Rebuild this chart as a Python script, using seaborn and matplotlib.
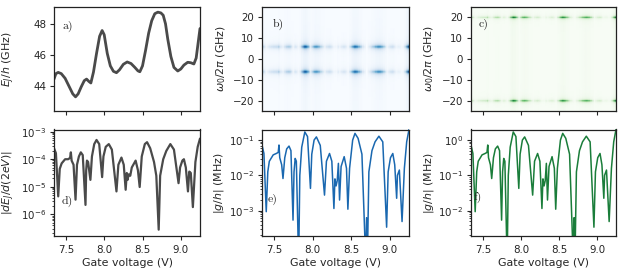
import numpy as np
import matplotlib
matplotlib.use("Agg")
import matplotlib.pyplot as plt
import seaborn as sns

sns.set_theme(style="ticks")
plt.rcParams.update({
    "font.family": ["DejaVu Sans"],
    "font.size": 7.6,
    "axes.labelsize": 7.9,
    "xtick.labelsize": 7.4,
    "ytick.labelsize": 7.4,
    "axes.linewidth": 0.9,
    "axes.edgecolor": "#222222",
    "xtick.major.size": 3.2,
    "ytick.major.size": 3.2,
    "ytick.minor.size": 1.8,
    "xtick.major.width": 0.8,
    "ytick.major.width": 0.8,
    "ytick.minor.width": 0.6,
    "xtick.major.pad": 3,
    "ytick.major.pad": 2.5,
    "mathtext.fontset": "dejavusans",
})

# a) Josephson energy vs gate voltage
v_a = [7.345, 7.37, 7.40, 7.44, 7.49, 7.54, 7.59, 7.626, 7.66, 7.70, 7.74, 7.77,
       7.80, 7.826, 7.86, 7.90, 7.94, 7.973, 8.00, 8.04, 8.08, 8.12, 8.16, 8.20,
       8.25, 8.30, 8.35, 8.40, 8.44, 8.465, 8.50, 8.54, 8.58, 8.62, 8.66, 8.70,
       8.74, 8.77, 8.80, 8.83, 8.87, 8.91, 8.96, 9.00, 9.04, 9.09, 9.13, 9.17,
       9.20, 9.25]
ej = [44.45, 44.8, 44.88, 44.8, 44.5, 44.0, 43.5, 43.31, 43.5, 43.95, 44.35, 44.45,
      44.3, 44.2, 44.9, 46.1, 47.2, 47.57, 47.3, 46.1, 45.3, 44.95, 44.86, 45.05,
      45.4, 45.55, 45.45, 45.2, 44.98, 44.92, 45.3, 46.3, 47.4, 48.2, 48.65, 48.75,
      48.7, 48.55, 48.0, 47.0, 45.9, 45.2, 44.97, 45.1, 45.35, 45.53, 45.5, 45.42,
      45.8, 47.7]

# d) |dEJ/d(2eV)| (log10 values)
v_d = [7.345, 7.37, 7.40, 7.42, 7.445, 7.49, 7.53, 7.555, 7.565, 7.575, 7.60, 7.626,
       7.645, 7.67, 7.695, 7.72, 7.756, 7.765, 7.775, 7.79, 7.82, 7.84, 7.87, 7.90,
       7.935, 7.973, 7.99, 8.02, 8.06, 8.10, 8.16, 8.185, 8.225, 8.255, 8.28, 8.295,
       8.305, 8.32, 8.34, 8.36, 8.41, 8.44, 8.463, 8.49, 8.53, 8.559, 8.60, 8.65,
       8.68, 8.711, 8.73, 8.77, 8.81, 8.863, 8.91, 8.97, 8.99, 9.02, 9.04, 9.065,
       9.093, 9.11, 9.13, 9.157, 9.19, 9.22, 9.25]
log_dej = [-3.6, -3.78, -5.35, -4.35, -4.15, -4.0, -4.0, -3.95, -3.75, -4.05, -4.2, -5.47,
           -4.2, -3.9, -3.75, -3.85, -5.66, -4.4, -4.05, -4.1, -4.75, -3.9, -3.45, -3.3,
           -3.45, -4.65, -3.9, -3.55, -3.45, -3.65, -5.17, -4.2, -3.94, -4.2, -5.11, -4.5,
           -4.75, -4.55, -4.6, -4.3, -4.05, -4.4, -5.01, -3.9, -3.45, -3.38, -3.6, -4.1,
           -4.6, -6.56, -4.6, -4.0, -3.7, -3.45, -3.65, -4.87, -4.3, -4.05, -4.0, -4.3,
           -5.17, -4.45, -4.5, -5.74, -4.1, -3.55, -3.25]

# e) and f) coupling |g/h| (log10 values)
v_g = [7.345, 7.37, 7.40, 7.42, 7.44, 7.49, 7.53, 7.555, 7.565, 7.575, 7.60, 7.617,
       7.64, 7.665, 7.695, 7.72, 7.747, 7.76, 7.775, 7.79, 7.82, 7.835, 7.86, 7.90,
       7.935, 7.973, 7.99, 8.02, 8.05, 8.10, 8.155, 8.18, 8.22, 8.25, 8.277, 8.29,
       8.305, 8.32, 8.335, 8.35, 8.37, 8.41, 8.44, 8.458, 8.48, 8.52, 8.55, 8.59,
       8.64, 8.69, 8.70, 8.71, 8.73, 8.77, 8.81, 8.86, 8.91, 8.96, 8.98, 9.01,
       9.04, 9.065, 9.09, 9.10, 9.125, 9.16, 9.19, 9.22, 9.25]
log_g_e = [-1.14, -1.38, -3.03, -1.9, -1.6, -1.42, -1.38, -1.35, -1.14, -1.5, -1.7, -2.09,
           -1.5, -1.25, -1.17, -1.3, -3.27, -1.9, -1.52, -1.6, -4.5, -2.0, -1.2, -0.77,
           -0.9, -2.37, -1.4, -1.0, -0.91, -1.15, -2.56, -1.6, -1.38, -1.6, -2.94, -2.1,
           -2.3, -2.15, -1.66, -2.7, -1.75, -1.47, -1.8, -2.96, -1.8, -1.0, -0.81, -0.95,
           -1.4, -4.5, -3.2, -4.5, -1.9, -1.3, -1.05, -0.89, -1.05, -3.47, -1.9, -1.5,
           -1.38, -1.7, -2.65, -2.0, -1.85, -3.31, -1.8, -1.05, -0.7]
log_g_f = [-0.14, -0.38, -2.03, -0.9, -0.6, -0.42, -0.38, -0.35, -0.14, -0.5, -0.7, -1.09,
           -0.5, -0.25, -0.17, -0.3, -2.27, -0.9, -0.52, -0.6, -3.5, -1.0, -0.2, 0.23,
           0.1, -1.37, -0.4, 0.0, 0.09, -0.15, -1.56, -0.6, -0.38, -0.6, -1.94, -1.1,
           -1.3, -1.15, -0.66, -1.7, -0.75, -0.47, -0.8, -1.96, -0.8, 0.0, 0.19, 0.05,
           -0.4, -3.5, -2.2, -3.5, -0.9, -0.3, -0.05, 0.11, -0.05, -2.47, -0.9, -0.5,
           -0.38, -0.7, -1.65, -1.0, -0.85, -2.31, -0.8, -0.05, 0.3]

# spectral lines in b) and c)
line_freq_b = [6.1, -5.9]
line_freq_c = [20.2, -19.8]
freq = np.linspace(-25, 25, 401)

W, H = 623, 274
def box(x0, y0, x1, y1):
    return [x0 / W, 1 - y1 / H, (x1 - x0) / W, (y1 - y0) / H]

fig = plt.figure(figsize=(6.23, 2.74), dpi=100)
ax_a = fig.add_axes(box(54, 6.7, 200, 111))
ax_b = fig.add_axes(box(262, 6.7, 409, 111))
ax_c = fig.add_axes(box(471, 6.7, 616, 111))
ax_d = fig.add_axes(box(54, 129.5, 200, 236))
ax_e = fig.add_axes(box(262, 129.5, 409, 236))
ax_f = fig.add_axes(box(471, 129.5, 616, 236))

xlim = (7.345, 9.25)
gray = "#4a4a4a"
blue = "#1a68b0"
green = "#1a7d3a"

sns.lineplot(x=v_a, y=ej, ax=ax_a, color=gray, lw=2.0)
ax_a.set_ylim(42.4, 49.1)
ax_a.set_yticks([44, 46, 48])
ax_a.set_ylabel("$E_J/h$ (GHz)")

sns.lineplot(x=v_d, y=10 ** np.array(log_dej), ax=ax_d, color=gray, lw=1.6)
ax_d.set_yscale("log")
ax_d.set_ylim(10 ** -6.79, 10 ** -2.92)
ax_d.set_ylabel("$|dE_J/d(2eV)|$")

sns.lineplot(x=v_g, y=10 ** np.array(log_g_e), ax=ax_e, color=blue, lw=1.1)
ax_e.set_yscale("log")
ax_e.set_ylim(10 ** -3.72, 10 ** -0.70)
ax_e.set_ylabel("$|g/h|$ (MHz)")

sns.lineplot(x=v_g, y=10 ** np.array(log_g_f), ax=ax_f, color=green, lw=1.1)
ax_f.set_yscale("log")
ax_f.set_ylim(10 ** -2.72, 10 ** 0.30)
ax_f.set_ylabel("$|g/h|$ (MHz)")


def spectrum(ax, amp, lines, width, cmap, vmax):
    amp = np.asarray(amp)
    VV, FF = np.meshgrid(v_g, freq)
    z = np.zeros_like(VV)
    for f0 in lines:
        z += amp[None, :] * width ** 2 / ((FF - f0) ** 2 + width ** 2)
    z += 0.04 * amp[None, :] ** 2
    ax.pcolormesh(VV, FF, z, shading="gouraud", cmap=cmap, vmin=0, vmax=vmax,
                  rasterized=True)
    ax.set_ylim(-25, 25)
    ax.set_yticks([-20, -10, 0, 10, 20])
    ax.set_ylabel(r"$\omega_0/2\pi$ (GHz)")


amp_b = 10 ** np.array(log_g_e) / 10 ** max(log_g_e)
spectrum(ax_b, amp_b, line_freq_b, 0.8, "Blues", 1.0)
amp_c = 10 ** np.array(log_g_f) / 10 ** max(log_g_f)
spectrum(ax_c, amp_c, line_freq_c, 0.45, "Greens", 1.0)

for ax in [ax_a, ax_b, ax_c, ax_d, ax_e, ax_f]:
    ax.set_xlim(*xlim)
    ax.set_xticks([7.5, 8.0, 8.5, 9.0])
    for s in ax.spines.values():
        s.set_visible(True)
for ax in [ax_a, ax_b, ax_c]:
    ax.set_xticklabels([])
    ax.set_xlabel("")
for ax in [ax_d, ax_e, ax_f]:
    ax.set_xlabel("Gate voltage (V)", labelpad=2.5)

lab_font = dict(family=["cmr10", "DejaVu Serif"], fontsize=8.5)
panel_pos = [(ax_a, "a)", 0.06, 0.81), (ax_b, "b)", 0.07, 0.83), (ax_c, "c)", 0.05, 0.83),
             (ax_d, "d)", 0.05, 0.32), (ax_e, "e)", 0.04, 0.34), (ax_f, "f)", 0.02, 0.36)]
for ax, t, x, y in panel_pos:
    ax.text(x, y, t, transform=ax.transAxes, va="center", ha="left", **lab_font)

# y-label right edges in pixels
for ax, x in [(ax_a, 17), (ax_d, 17), (ax_b, 228), (ax_e, 226), (ax_c, 436), (ax_f, 436)]:
    pos = ax.get_position()
    ax.yaxis.set_label_coords((x - pos.x0 * W) / (pos.width * W), 0.5)

fig.savefig("out.png", dpi=100)
